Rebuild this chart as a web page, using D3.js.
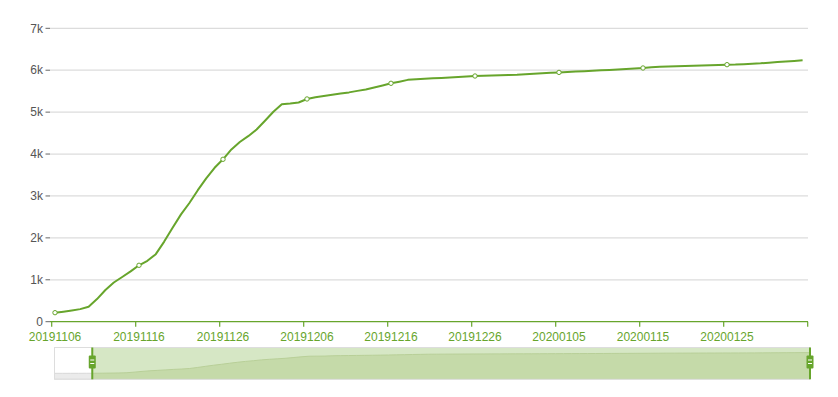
<!DOCTYPE html>
<html>
<head>
<meta charset="utf-8">
<script src="https://cdn.jsdelivr.net/npm/d3@7"></script>
<style>
    body { margin: 0; background: #fff; }
    svg { display: block; font-family: "Liberation Sans", Arial, sans-serif; }
</style>
</head>
<body>
<div id="chart"></div>
<script>
// categories: one per day, 20191101 .. 20200204
const firstDay = "20191101"
const lastDay = "20200204"
const windowStart = "20191106"

// cumulative counts, 20191101 .. 20200203
const values = [
    195, 200, 205, 205, 210,
    215, 240, 268, 300, 358, 539, 757, 935, 1067, 1200,
    1346, 1453, 1611, 1911, 2240, 2560, 2832, 3138, 3419, 3672,
    3875, 4111, 4288, 4426, 4584, 4794, 5008, 5187, 5206, 5230,
    5314, 5357, 5385, 5414, 5443, 5471, 5507, 5541, 5588, 5636,
    5688, 5727, 5770, 5782, 5794, 5808, 5817, 5829, 5839, 5851,
    5862, 5867, 5872, 5879, 5886, 5893, 5905, 5917, 5929, 5939,
    5948, 5957, 5968, 5978, 5988, 5998, 6008, 6018, 6030, 6042,
    6053, 6070, 6080, 6088, 6095, 6102, 6108, 6114, 6120, 6126,
    6132, 6135, 6145, 6155, 6165, 6180, 6196, 6210, 6222, 6235
]

const yTicks = [0, 1000, 2000, 3000, 4000, 5000, 6000, 7000]
const labelEvery = 10

const green = "#67a52c"
const width = 838, height = 397

const parse = d3.utcParse("%Y%m%d"), fmt = d3.utcFormat("%Y%m%d")
const allDates = d3.utcDay.range(parse(firstDay), d3.utcDay.offset(parse(lastDay), 1)).map(fmt)
const data = allDates.map((d, i) => ({ date: d, value: values[i] })).filter(d => d.value != null)
const startIdx = allDates.indexOf(windowStart)
const windowDates = allDates.slice(startIdx)
const windowData = data.filter(d => d.date >= windowStart)

const svg = d3.select("#chart").append("svg")
    .attr("width", width)
    .attr("height", height)
    .attr("viewBox", [0, 0, width, height])

const x = d3.scalePoint().domain(windowDates).range([55, 811])
const tickShift = -3.3
const y = d3.scaleLinear().domain([0, 7000]).range([321.7, 28.3])
const plotLeft = 50, plotRight = 808

// grid + y labels
const yg = svg.append("g")
yg.selectAll("line.grid")
    .data(yTicks.filter(t => t > 0))
    .join("line")
    .attr("x1", plotLeft).attr("x2", plotRight)
    .attr("y1", d => y(d)).attr("y2", d => y(d))
    .attr("stroke", "#dcdcdc").attr("stroke-width", 1.2)
yg.selectAll("line.tick")
    .data(yTicks)
    .join("line")
    .attr("x1", plotLeft - 4.5).attr("x2", plotLeft)
    .attr("y1", d => y(d)).attr("y2", d => y(d))
    .attr("stroke", "#666")
yg.selectAll("text")
    .data(yTicks)
    .join("text")
    .attr("x", plotLeft - 7)
    .attr("y", d => y(d))
    .attr("dy", "0.35em")
    .attr("text-anchor", "end")
    .attr("fill", "#555")
    .attr("font-size", 12)
    .text(d => d === 0 ? "0" : d3.format("~s")(d))

// x axis
const xg = svg.append("g")
xg.append("line")
    .attr("x1", plotLeft).attr("x2", plotRight)
    .attr("y1", y(0)).attr("y2", y(0))
    .attr("stroke", green).attr("stroke-width", 1.2)
const tickDates = windowDates.filter((d, i) => i % labelEvery === 0)
xg.selectAll("line.tick")
    .data(tickDates)
    .join("line")
    .attr("x1", d => x(d) + tickShift).attr("x2", d => x(d) + tickShift)
    .attr("y1", y(0)).attr("y2", y(0) + 5)
    .attr("stroke", green).attr("stroke-width", 1.2)
xg.selectAll("text")
    .data(tickDates.slice(0, -1))
    .join("text")
    .attr("x", d => x(d))
    .attr("y", y(0) + 19)
    .attr("text-anchor", "middle")
    .attr("fill", green)
    .attr("font-size", 12)
    .text(d => d)

// line
const line = d3.line().x(d => x(d.date)).y(d => y(d.value))
svg.append("path")
    .datum(windowData)
    .attr("fill", "none")
    .attr("stroke", green)
    .attr("stroke-width", 2)
    .attr("stroke-linejoin", "round")
    .attr("d", line)

svg.append("g")
    .selectAll("circle")
    .data(windowData.filter((d, i) => i % labelEvery === 0))
    .join("circle")
    .attr("cx", d => x(d.date))
    .attr("cy", d => y(d.value))
    .attr("r", 2.2)
    .attr("fill", "#fff")
    .attr("stroke", green)
    .attr("stroke-width", 1)

// data zoom slider
const sTop = 347.5, sBottom = 379.3, sLeft = 54.5, sRight = 810
const sx = d3.scalePoint().domain(allDates).range([sLeft, sRight])
const sy = d3.scaleLinear().domain([0, 7000]).range([374, 350])
const handleX = sx(windowStart) - 2

const defs = svg.append("defs")
defs.append("clipPath").attr("id", "clipOut").append("rect")
    .attr("x", sLeft).attr("y", sTop).attr("width", handleX - sLeft).attr("height", sBottom - sTop)
defs.append("clipPath").attr("id", "clipIn").append("rect")
    .attr("x", handleX).attr("y", sTop).attr("width", sRight - handleX).attr("height", sBottom - sTop)

const area = d3.area().x(d => sx(d.date)).y0(sBottom).y1(d => sy(d.value))
const shadowData = data.concat([{ date: lastDay, value: values[values.length - 1] }])

svg.append("rect")
    .attr("x", handleX).attr("y", sTop)
    .attr("width", sRight - handleX).attr("height", sBottom - sTop)
    .attr("fill", "#d6e7c5")
svg.append("path").datum(shadowData)
    .attr("clip-path", "url(#clipOut)")
    .attr("fill", "#ebebeb").attr("stroke", "#d8d8d8")
    .attr("d", area)
svg.append("path").datum(shadowData)
    .attr("clip-path", "url(#clipIn)")
    .attr("fill", "#c5daa9").attr("stroke", "#b8cf98")
    .attr("d", area)
svg.append("rect")
    .attr("x", sLeft).attr("y", sTop)
    .attr("width", sRight - sLeft).attr("height", sBottom - sTop)
    .attr("fill", "none").attr("stroke", "#dddddd")

const handles = svg.append("g")
    .selectAll("g")
    .data([handleX, sRight])
    .join("g")
handles.append("line")
    .attr("x1", d => d).attr("x2", d => d)
    .attr("y1", sTop).attr("y2", sBottom)
    .attr("stroke", green).attr("stroke-width", 2)
handles.append("rect")
    .attr("x", d => d - 3.5).attr("y", 355.5)
    .attr("width", 7).attr("height", 13).attr("rx", 1)
    .attr("fill", green)
handles.selectAll("line.grip")
    .data(d => [d, d].map((v, i) => ({ x: v, y: 360 + i * 3.5 })))
    .join("line")
    .attr("x1", d => d.x - 2).attr("x2", d => d.x + 2)
    .attr("y1", d => d.y).attr("y2", d => d.y)
    .attr("stroke", "#fff").attr("stroke-width", 1)
</script>
</body>
</html>
